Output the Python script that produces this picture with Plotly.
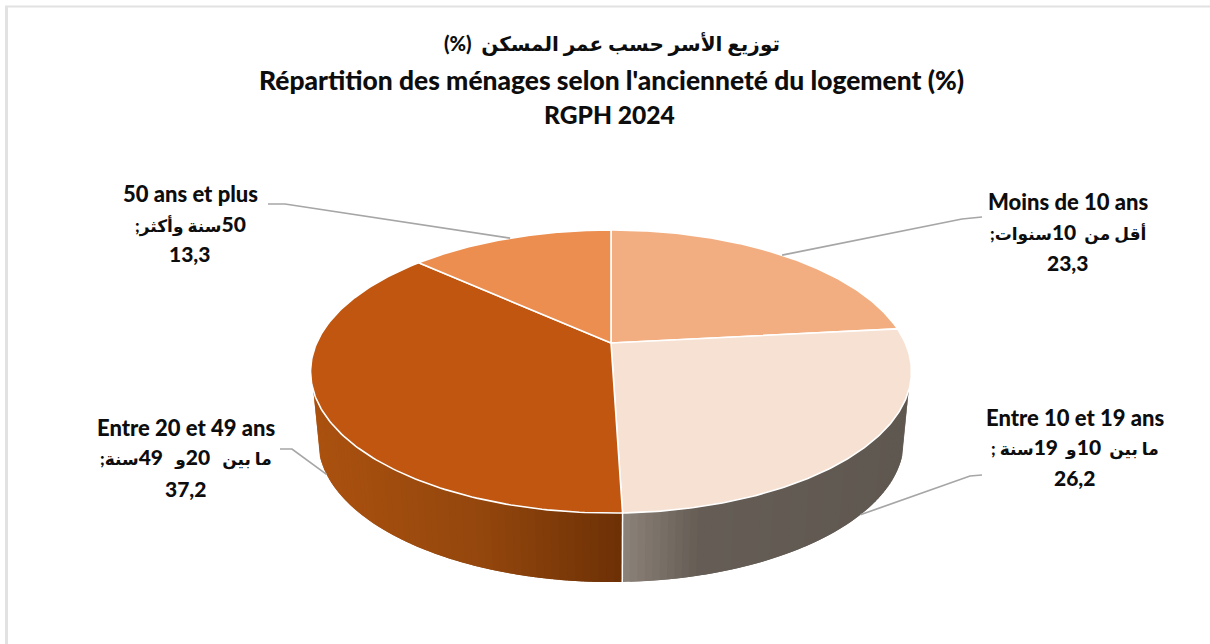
import re
import numpy as np
import plotly.graph_objects as go

title_lines = ["\u200fتوزيع الأسر حسب عمر المسكن  (%)\u200f",
               "Répartition des ménages selon l'ancienneté du logement (%)",
               "RGPH 2024"]
categories_fr = ["Moins de 10 ans", "Entre 10 et 19 ans", "Entre 20 et 49 ans", "50 ans et plus"]
categories_ar = ["أقل من  10سنوات;\u200f", "ما بين  10و  19سنة ;\u200f",
                 "ما بين   20و   49سنة;\u200f", "\u200f50سنة وأكثر;\u200f"]
values = [23.3, 26.2, 37.2, 13.3]
value_labels = ["23,3", "26,2", "37,2", "13,3"]

top_colors = ["#F2AE80", "#F7E1D3", "#C0560F", "#EC8E4F"]
side_stops = {1: [(622, "#8F857C"), (700, "#665E56"), (912, "#5F5850")],
              2: [(312, "#AC5210"), (480, "#94470D"), (622, "#6C3006")]}

# Projection of the tilted pie disc
CX, CY = 611.0, 343.0
A, B, K = 294.3, 135.8, 0.2014
DEPTH, SHRINK = 69.0, 0.975
Y_START, Y_LOW = 0.33, 0.2


def rim(theta, lower=False):
    t = np.radians(theta)
    X, Y = np.sin(t), -np.cos(t)
    w = 1 - K * Y
    u, v = A * X / w, B * Y / w
    if lower:
        return CX + SHRINK * u, CY + v + DEPTH
    return CX + u, CY + v


def hex2rgb(c):
    return np.array([int(c[i:i + 2], 16) for i in (1, 3, 5)], float)


def grad(stops, x):
    xs = [s[0] for s in stops]
    rgb = [hex2rgb(s[1]) for s in stops]
    return "rgb(%d,%d,%d)" % tuple(np.interp(x, xs, [c[i] for c in rgb]) for i in range(3))


cum = np.concatenate([[0], np.cumsum(values)]) / sum(values) * 360
mid = (cum[:-1] + cum[1:]) / 2
fig = go.Figure()


def poly(x, y, color, lw=0.0, lc=None):
    fig.add_trace(go.Scatter(x=x, y=y, mode="lines", fill="toself", fillcolor=color,
                             line=dict(color=lc or color, width=lw), hoverinfo="skip", showlegend=False))


# Side walls (front half only); each strip overlaps its neighbour so no seams show
th_start = np.degrees(np.arccos(-Y_START))
th_low = np.degrees(np.arccos(-Y_LOW))
for idx, (a, b, clamp_a, clamp_b) in {
    1: (th_low, cum[2], th_start, cum[2]),
    2: (cum[2], 360 - th_low, cum[2], 360 - th_start),
}.items():
    edges = np.linspace(a, b, 65)
    n = len(edges) - 1
    order = range(n) if idx == 2 else range(n - 1, -1, -1)
    for j in order:
        t0, t1 = edges[j], edges[j + 1]
        if idx == 2:
            t1b = min(t1 + 1.2, b)
            t0b = t0
        else:
            t0b = max(t0 - 1.2, a)
            t1b = t1
        arc = np.linspace(t0b, t1b, 8)
        tx, ty = rim(np.clip(arc, clamp_a, clamp_b))
        bx, by = rim(arc[::-1], True)
        poly(np.r_[tx, bx, tx[0]], np.r_[ty, by, ty[0]], grad(side_stops[idx], np.mean(bx)))

# Edge between the two visible walls
xa, ya = rim(cum[2])
xb, yb = rim(cum[2], True)
fig.add_trace(go.Scatter(x=[xa, xb], y=[ya, yb], mode="lines", line=dict(color="white", width=1.5),
                         hoverinfo="skip", showlegend=False))

# Top faces
for i, c in enumerate(top_colors):
    th = np.linspace(cum[i], cum[i + 1], 160)
    rx, ry = rim(th)
    poly(np.r_[CX, rx, CX], np.r_[CY, ry, CY], c, lw=1.6, lc="white")

# Leader lines, attached at each slice's mid-angle
leader_elbows = [[(962, 219), (982, 217)], [(970, 476), (982, 475)], [(292, 449), (280, 449)], [(285, 204), (268, 204)]]
leader_on_lower = [False, True, True, False]
for i, elbow in enumerate(leader_elbows):
    sx, sy = rim(mid[i], leader_on_lower[i])
    fig.add_trace(go.Scatter(x=[sx] + [p[0] for p in elbow], y=[sy] + [p[1] for p in elbow], mode="lines",
                             line=dict(color="#A6A6A6", width=1.7), hoverinfo="skip", showlegend=False))

# Text
FONT = "Lato, 'DejaVu Sans', sans-serif"
INK = "#0D0D0D"


def text(x, y, s, size, weight=900):
    fig.add_annotation(x=x, y=y, xref="x", yref="y", text=s, showarrow=False, xanchor="center", yanchor="middle",
                       font=dict(family=FONT, size=size, color=INK, weight=weight))


title_y = [43, 80, 114]
title_x = [612, 611, 609]
title_sizes = [20, 26.4, 24.6]
for s, x, y, sz in zip(title_lines, title_x, title_y, title_sizes):
    text(x, y, s, sz)

label_x = [1068, 1075, 186, 190]
label_y = [[201, 232, 262], [417, 447, 477], [427, 457, 488], [193, 224, 253]]


def big_digits(s, px=21):
    return re.sub(r"(\u200f?\d+)", lambda m: "<span style='font-size:%dpx'>%s</span>" % (px, m.group(1)), s)


for i in range(4):
    text(label_x[i], label_y[i][0], categories_fr[i], 22)
    text(label_x[i], label_y[i][1], big_digits(categories_ar[i]), 17)
    text(label_x[i], label_y[i][2], value_labels[i], 21)

fig.update_layout(
    width=1210, height=644, margin=dict(l=0, r=0, t=0, b=0),
    paper_bgcolor="white", plot_bgcolor="white", showlegend=False,
    xaxis=dict(range=[0, 1210], visible=False, fixedrange=True),
    yaxis=dict(range=[644, 0], visible=False, fixedrange=True),
    shapes=[
        dict(type="line", xref="x", yref="y", x0=5, x1=1210, y0=6.5, y1=6.5, line=dict(color="#E2E2E2", width=2)),
        dict(type="line", xref="x", yref="y", x0=6.5, x1=6.5, y0=6, y1=644, line=dict(color="#E2E2E2", width=3)),
    ],
)
fig.write_html("out.html", config=dict(displayModeBar=False),
               post_script="document.body.style.margin='0';document.body.style.overflow='hidden';")
